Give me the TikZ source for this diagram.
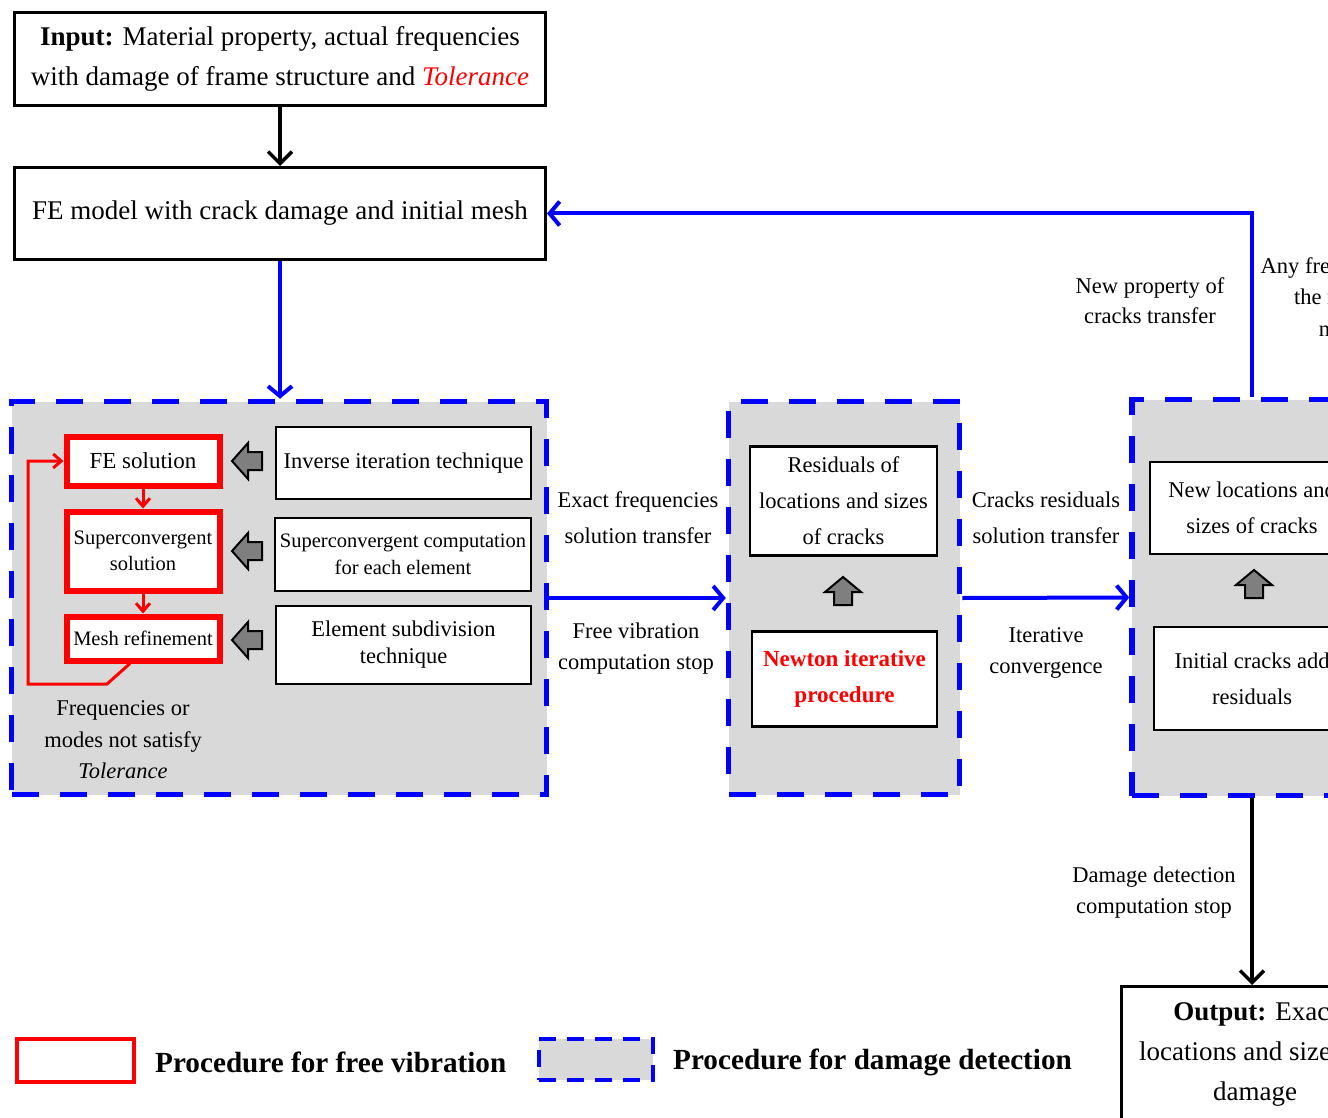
\documentclass[tikz,border=0pt]{standalone}
\usepackage{fontspec}
\setmainfont{Liberation Serif}
\usetikzlibrary{arrows.meta}
\definecolor{boxgray}{HTML}{D9D9D9}
\definecolor{arrgray}{HTML}{7F7F7F}
\tikzset{
 bigbox/.style={draw=black, line width=3pt, fill=white, inner sep=0pt, align=center, font=\fontsize{27}{40}\selectfont},
 region/.style={draw=blue, line width=5.5pt, dash pattern=on 27pt off 21pt, fill=boxgray, inner sep=0pt},
 redbox/.style={draw=red, line width=6pt, fill=white, inner sep=0pt, align=center, font=\fontsize{20.5}{26}\selectfont},
 techbox/.style={draw=black, line width=2.5pt, fill=white, inner sep=0pt, align=center, font=\fontsize{22.5}{27}\selectfont},
 resbox/.style={draw=black, line width=2.5pt, fill=white, inner sep=0pt, align=center, font=\fontsize{22.5}{36}\selectfont},
 lbl/.style={align=center, inner sep=0pt, font=\fontsize{22.5}{31}\selectfont},
 legtext/.style={anchor=west, inner sep=0pt, font=\fontsize{29.2}{30}\selectfont\bfseries},
 bluearrow/.style={draw=blue, line width=4pt, -{Straight Barb[length=10pt,width=24pt]}},
 blackarrow/.style={draw=black, line width=3.5pt, -{Straight Barb[length=12pt,width=24pt]}},
 redarrow/.style={draw=red, line width=3pt, -{Straight Barb[length=8pt,width=14pt]}},
 larrow/.pic={\draw[fill=arrgray, line width=2pt, line join=miter] (0,0) -- (16,-18) -- (16,-9) -- (30,-9) -- (30,9) -- (16,9) -- (16,18) -- cycle;},
 uarrow/.pic={\draw[fill=arrgray, line width=2pt, line join=miter] (0,0) -- (18,15) -- (9,15) -- (9,28) -- (-9,28) -- (-9,15) -- (-18,15) -- cycle;},
}
\begin{document}
\begin{tikzpicture}[x=1pt,y=-1pt]
\useasboundingbox (0,0) rectangle (1328,1118);
\clip (0,0) rectangle (1328,1118);
\fill[white] (0,0) rectangle (1328,1118);

% top boxes
\node[bigbox, minimum width=531, minimum height=93] (input) at (280,59)
 {\textbf{Input:} Material property, actual frequencies\\with damage of frame structure and \textcolor{red}{\textit{Tolerance}}};
\node[bigbox, minimum width=531, minimum height=92] (fe) at (280,213.5)
 {FE model with crack damage and initial mesh};

% regions
\node[region, minimum width=535, minimum height=393] (fv) at (279,598) {};
\node[region, minimum width=231, minimum height=393] (mid) at (844,598) {};
\node[region, minimum width=240, minimum height=396] (rt) at (1252,597.5) {};

% left region content
\node[redbox, minimum width=153, minimum height=49, font=\fontsize{23}{26}\selectfont] (fes) at (143,461) {FE solution};
\node[redbox, minimum width=153, minimum height=79] (scs) at (143,551) {Superconvergent\\solution};
\node[redbox, minimum width=153, minimum height=44] (mr) at (143,638.5) {Mesh refinement};

\node[techbox, minimum width=255, minimum height=72] (inv) at (403.5,463) {Inverse iteration technique};
\node[techbox, minimum width=256, minimum height=73, font=\fontsize{20.5}{27}\selectfont] (scc) at (403,554.5) {Superconvergent computation\\for each element};
\node[techbox, minimum width=255, minimum height=78] (esd) at (403.5,645) {Element subdivision\\technique};

\pic at (232,461) {larrow};
\pic at (232,551) {larrow};
\pic at (232,640) {larrow};

\draw[redarrow] (fes.south) -- (scs.north);
\draw[redarrow] (scs.south) -- (mr.north);
\coordinate (lp1) at (107,684);
\coordinate (lp2) at (28,684);
\coordinate (lp3) at (28,461);
\draw[redarrow, line join=miter] ([xshift=-13pt]mr.south) -- (lp1) -- (lp2) -- (lp3) -- (fes.west);

\node[lbl, font=\fontsize{22.5}{31.5}\selectfont] (freqlbl) at (123,740) {Frequencies or\\modes not satisfy\\\textit{Tolerance}};

% middle region content
\node[resbox, minimum width=187, minimum height=109] (resid) at (843.5,501) {Residuals of\\locations and sizes\\of cracks};
\node[resbox, minimum width=185, minimum height=95, font=\fontsize{23}{36}\selectfont\bfseries, text=red] (newton) at (844.5,679) {Newton iterative\\procedure};
\pic at (843,577) {uarrow};

% right region content
\node[resbox, minimum width=204, minimum height=92] (newloc) at (1252,508) {New locations and\\sizes of cracks};
\node[resbox, minimum width=196, minimum height=103] (initc) at (1252,678.5) {Initial cracks add\\residuals};
\pic at (1254,570) {uarrow};

% labels between regions
\node[lbl, font=\fontsize{22.5}{36}\selectfont] (exlbl) at (638,518) {Exact frequencies\\solution transfer};
\node[lbl] (fvlbl) at (636,649) {Free vibration\\computation stop};
\node[lbl, font=\fontsize{22.5}{36}\selectfont] (crlbl) at (1046,518) {Cracks residuals\\solution transfer};
\node[lbl] (itlbl) at (1046,653) {Iterative\\convergence};
\node[lbl, font=\fontsize{22.5}{30}\selectfont] (nplbl) at (1150,301) {New property of\\cracks transfer};
\node[lbl, font=\fontsize{22.5}{31.5}\selectfont] (anylbl) at (1340,297) {Any frequency or\\the modes\\need};
\node[lbl] (ddlbl) at (1154,893) {Damage detection\\computation stop};

% output
\node[bigbox, anchor=north, inner ysep=16pt, minimum width=268pt] (out) at (1255,985)
 {\textbf{Output:} Exact\\locations and sizes of\\damage};

% connectors
\draw[blackarrow] (input.south) -- (fe.north);
\draw[bluearrow] (fe.south) -- (fe.south |- fv.north);
\draw[bluearrow] (fv.east) -- (mid.west);
\draw[bluearrow] (mid.east) -- (rt.west);
\draw[bluearrow, line join=miter] (rt.north) |- (fe.east);
\draw[blackarrow] (rt.south) -- (rt.south |- out.north);

% legend
\node[draw=red, line width=4pt, minimum width=117, minimum height=43, inner sep=0pt] (legred) at (75.5,1060.5) {};
\node[legtext] (legredt) at (155,1062) {Procedure for free vibration};
\node[draw=blue, fill=boxgray, line width=4pt, dash pattern=on 17pt off 11pt, minimum width=114, minimum height=41, inner sep=0pt] (legblue) at (596,1059.5) {};
\node[legtext] (legbluet) at (673,1062) {Procedure for damage detection};
\end{tikzpicture}
\end{document}
